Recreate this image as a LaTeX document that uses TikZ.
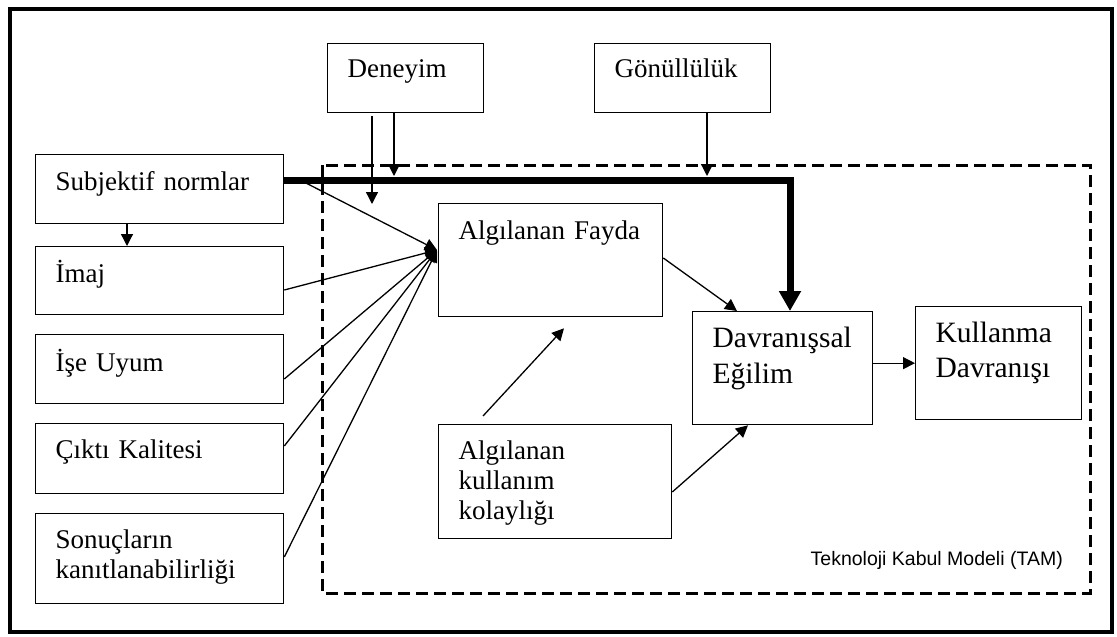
\documentclass[tikz,border=0pt]{standalone}
\usepackage{fontspec}
\setmainfont{Liberation Serif}
\newfontfamily\labelsans{Liberation Sans}
\usetikzlibrary{arrows.meta,calc}
\hyphenpenalty=10000
\exhyphenpenalty=10000

\begin{document}
\begin{tikzpicture}[x=1pt,y=-1pt,
  box/.style={draw, line width=1.3pt, anchor=north west, inner xsep=20pt,
    inner ysep=0pt, align=left, text height=36pt,
    font=\fontsize{27}{30}\selectfont},
  bigbox/.style={box, font=\fontsize{29.5}{36}\selectfont},
  arr/.style={line width=1.3pt, -{Triangle[length=12pt,width=12pt]}},
  heavy/.style={line width=7pt, line join=miter, -{Triangle[length=20pt,width=21pt]}},
  tamframe/.style={line width=3pt, dash pattern=on 12pt off 6pt},
  frame/.style={line width=4pt}]

\useasboundingbox (0,0) rectangle (1117,637);
\draw[frame] (10,9) rectangle (1112,632);
\draw[tamframe] (322,165) rectangle (1090,593);

% external factors
\node[box, text width=116pt, text height=34pt, text depth=35pt] (dene) at (327,43) {Deneyim};
\node[box, text width=136pt, text height=34pt, text depth=35pt] (gonu) at (594,43) {Gönüllülük};
\node[box, text width=208pt, text depth=33pt] (subj) at (35,154) {Subjektif normlar};
\node[box, text width=208pt, text depth=32pt] (imaj) at (35,246) {İmaj};
\node[box, text width=208pt, text height=37pt, text depth=32pt] (ise) at (35,334) {İşe Uyum};
\node[box, text width=208pt, text height=35pt, text depth=35pt] (cikti) at (35,423) {Çıktı Kalitesi};
\node[box, text width=208pt, text height=35pt, text depth=55pt] (sonuc) at (35,513) {Sonuçların\\kanıtlanabilirliği};

% TAM core
\node[box, text width=184pt, text depth=77pt] (fayda) at (438,203) {Algılanan Fayda};
\node[box, text width=193pt, text height=35pt, text depth=79pt] (kolay) at (438,424) {Algılanan\\kullanım\\kolaylığı};
\node[bigbox, text width=140pt, text depth=77pt] (davr) at (692,311) {Davranışsal\\Eğilim};
\node[bigbox, text width=126pt, text depth=77pt, font=\fontsize{29.5}{35}\selectfont] (kull) at (915,306) {Kullanma\\Davranışı};

\node[font=\labelsans\fontsize{19.5}{22}\selectfont, anchor=base east, inner sep=0pt] (tam) at (1063,565) {Teknoloji Kabul Modeli (TAM)};

% helper points
\coordinate (d1) at (394,176);
\coordinate (d2a) at (372,116);
\coordinate (d2b) at (372,204);
\coordinate (g1) at (707,176);
\coordinate (bend) at (790,180);
\coordinate (s0) at (302,181);
\coordinate (fin) at (437,250);

% heavy path from subjective norms to intention
\draw[heavy] (subj.north east |- bend) -- (bend) -- (davr.north -| bend);

% moderators
\draw[arr] (dene.south -| d1) -- (d1);
\draw[arr] (d2a) -- (d2b);
\draw[arr] (gonu.south -| g1) -- (g1);

% subjective norms to image
\draw[arr] ($(subj.south west)+(92,0)$) -- ($(imaj.north west)+(92,0)$);

% determinants of perceived usefulness
\draw[arr] (s0) -- (fin);
\draw[arr] ($(imaj.north east)+(0,44)$) -- (fin);
\draw[arr] ($(ise.north east)+(0,45)$) -- (fin);
\draw[arr] ($(cikti.north east)+(0,23)$) -- (fin);
\draw[arr] ($(sonuc.north east)+(0,44)$) -- (fin);

% TAM relations
\draw[arr] ($(fayda.north east)+(0,55)$) -- ($(davr.north west)+(45,0)$);
\draw[arr] ($(kolay.north west)+(45,-8)$) -- ($(fayda.south west)+(126,11)$);
\draw[arr] ($(kolay.north east)+(0,68)$) -- ($(davr.south west)+(56,0)$);
\draw[arr] (davr.east |- kull.west) -- (kull.west);

\end{tikzpicture}
\end{document}
